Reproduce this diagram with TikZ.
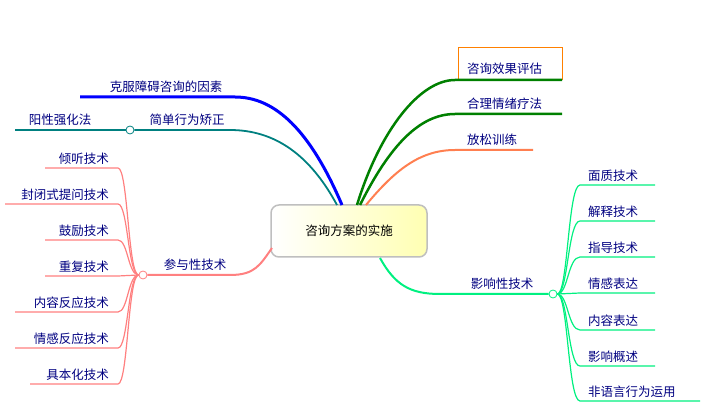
\documentclass[tikz,border=0pt]{standalone}
\usepackage{fontspec}
\setmainfont{Noto Sans CJK SC}
\usetikzlibrary{shapes.geometric}
\definecolor{navy}{HTML}{000080}
\definecolor{bl}{HTML}{0000FF}
\definecolor{tl}{HTML}{008080}
\definecolor{dg}{HTML}{008000}
\definecolor{cor}{HTML}{FF7F50}
\definecolor{sg}{HTML}{00F080}
\definecolor{pk}{HTML}{FF8080}
\definecolor{org}{HTML}{FF8000}
\tikzset{lbl/.style={text=navy,font=\fontsize{12.5}{14}\selectfont,inner sep=1pt},
 knob/.style={circle,draw=#1,fill=white,inner sep=0pt,minimum size=8pt,line width=0.8pt}}
\begin{document}
\begin{tikzpicture}[x=1pt,y=-1pt]
\useasboundingbox (0,0) rectangle (707,411);
% center
\node[draw=gray!50,line width=1.5pt,rounded corners=8pt,left color=white,right color=yellow!30,minimum width=156pt,minimum height=52pt,text=black,font=\fontsize{12.5}{14}\selectfont] (c) at (349,231) {咨询方案的实施};
% blue
\coordinate (b0) at (235,97); \coordinate (b1) at (80,97);
\node[lbl,anchor=south] (bt) at (166,94) {克服障碍咨询的因素};
\draw[bl,line width=3pt] (342,205) .. controls (310,130) and (275,97) .. (b0) -- (b1);
% teal
\node[knob=tl] (k1) at (130,130) {};
\node[lbl,anchor=south] (tt) at (187,127) {简单行为矫正};
\node[lbl,anchor=south] (tt2) at (60,127) {阳性强化法};
\coordinate (t0) at (230,130);
\draw[tl,line width=1.8pt] (337,205) .. controls (310,155) and (275,130) .. (t0) -- (k1);
\draw[tl,line width=1.2pt] (k1) -- (15,130);
% greens
\node[draw=org,line width=1.2pt,minimum width=104pt,minimum height=32pt,anchor=south west,inner sep=0pt] (g1) at (458,80) {};
\node[lbl,anchor=south west] (g1t) at (466,76) {咨询效果评估};
\node[lbl,anchor=south west] (g2) at (466,111) {合理情绪疗法};
\node[lbl,anchor=south west] (g3) at (466,147) {放松训练};
\draw[dg,line width=2.5pt] (357,205) .. controls (380,130) and (420,80) .. (455,80) -- (562,80);
\draw[dg,line width=2.5pt] (360,205) .. controls (390,145) and (420,114) .. (455,114) -- (562,114);
\draw[cor,line width=2pt] (366,205) .. controls (395,170) and (420,150) .. (455,150) -- (533,150);
% right
\node[knob=sg] (k2) at (553,294) {};
\node[lbl,anchor=south] (rt) at (502,291) {影响性技术};
\draw[sg,line width=2pt] (380,258) .. controls (395,285) and (410,294) .. (440,294) -- (k2);
\foreach \y/\t/\e in {185/面质技术/655,221/解释技术/655,257/指导技术/655,293/情感表达/655,330/内容表达/655,366/影响概述/655,401/非语言行为运用/700}{
  \node[lbl,anchor=south west] at (587,\y-2) {\t};
  \draw[sg,line width=1.2pt] (k2.east) .. controls (568,294) and (568,\y) .. (580,\y) -- (\e,\y);
}
% left
\node[knob=pk] (k3) at (143,275) {};
\node[lbl,anchor=south] (lt) at (195,272) {参与性技术};
\draw[pk,line width=2pt] (272,248) .. controls (260,265) and (255,275) .. (230,275) -- (k3);
\foreach \y/\t/\s in {168/倾听技术/45,204/封闭式提问技术/5,240/鼓励技术/45,276/重复技术/45,312/内容反应技术/15,348/情感反应技术/15,384/具本化技术/30}{
  \node[lbl,anchor=south east] at (110,\y-2) {\t};
  \draw[pk,line width=1.2pt] (k3.west) .. controls (128,275) and (128,\y) .. (118,\y) -- (\s,\y);
}
\end{tikzpicture}
\end{document}
